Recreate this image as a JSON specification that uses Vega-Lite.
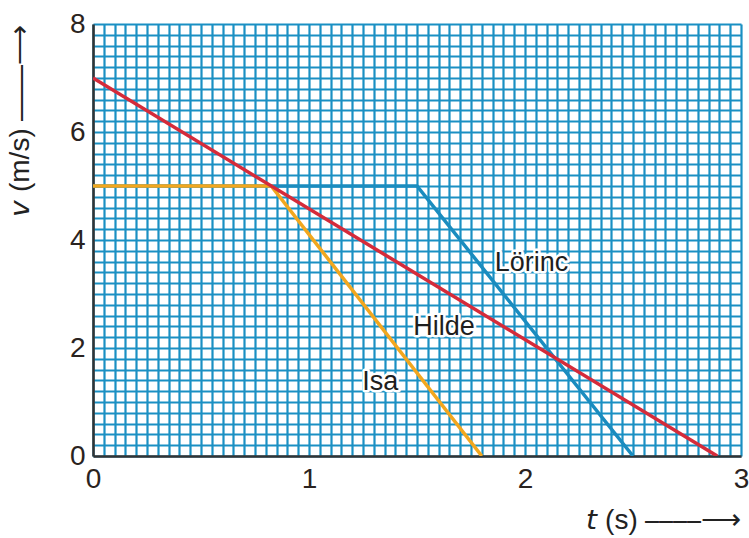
{
  "$schema": "https://vega.github.io/schema/vega-lite/v6.json",
  "width": 648,
  "height": 432,
  "autosize": {"type": "none"},
  "padding": {"left": 93, "top": 24, "right": 8, "bottom": 82},
  "background": "white",
  "config": {
    "view": {"stroke": null},
    "font": "Liberation Sans",
    "axis": {
      "gridColor": "#1a90c3",
      "gridWidth": 2.2,
      "gridOpacity": 1,
      "ticks": false,
      "tickCount": 200,
      "domainColor": "#333333",
      "domainWidth": 2.5,
      "labelFont": "Liberation Sans",
      "labelFontSize": 28,
      "labelColor": "#2a2320",
      "labelOverlap": false,
      "labelFlush": false,
      "titleFont": "Liberation Sans",
      "titleFontSize": 28,
      "titleFontWeight": "normal",
      "titleColor": "#222222"
    }
  },
  "datasets": {
    "lines": [
      {"name": "Lörinc", "t": 0, "v": 5},
      {"name": "Lörinc", "t": 1.5, "v": 5},
      {"name": "Lörinc", "t": 2.5, "v": 0},
      {"name": "Isa", "t": 0, "v": 5},
      {"name": "Isa", "t": 0.825, "v": 5},
      {"name": "Isa", "t": 1.8, "v": 0},
      {"name": "Hilde", "t": 0, "v": 7},
      {"name": "Hilde", "t": 2.89, "v": 0}
    ],
    "labels": [
      {"name": "Lörinc", "t": 2.03, "v": 3.57},
      {"name": "Hilde", "t": 1.625, "v": 2.39},
      {"name": "Isa", "t": 1.33, "v": 1.37}
    ]
  },
  "layer": [
    {
      "data": {"name": "lines"},
      "mark": {"type": "line", "strokeWidth": 3.5, "clip": true},
      "encoding": {
        "x": {
          "field": "t", "type": "quantitative",
          "scale": {"domain": [0, 3], "nice": false, "zero": false},
          "axis": {
            "values": [0,0.05,0.1,0.15,0.2,0.25,0.3,0.35,0.4,0.45,0.5,0.55,0.6,0.65,0.7,0.75,0.8,0.85,0.9,0.95,1,1.05,1.1,1.15,1.2,1.25,1.3,1.35,1.4,1.45,1.5,1.55,1.6,1.65,1.7,1.75,1.8,1.85,1.9,1.95,2,2.05,2.1,2.15,2.2,2.25,2.3,2.35,2.4,2.45,2.5,2.55,2.6,2.65,2.7,2.75,2.8,2.85,2.9,2.95,3],
            "labelExpr": "datum.value % 1 === 0 ? format(datum.value, 'd') : ''",
            "labelPadding": 9,
            "title": "𝘵 (s) ⎯⎯⎯⎯⟶",
            "titleAnchor": "end",
            "titlePadding": 13
          }
        },
        "y": {
          "field": "v", "type": "quantitative",
          "scale": {"domain": [0, 8], "nice": false},
          "axis": {
            "values": [0,0.2,0.4,0.6,0.8,1,1.2,1.4,1.6,1.8,2,2.2,2.4,2.6,2.8,3,3.2,3.4,3.6,3.8,4,4.2,4.4,4.6,4.8,5,5.2,5.4,5.6,5.8,6,6.2,6.4,6.6,6.8,7,7.2,7.4,7.6,7.8,8],
            "labelExpr": "datum.value % 2 === 0 ? format(datum.value, 'd') : ''",
            "labelPadding": 8,
            "title": "𝘷 (m/s) ⎯⎯⎯⎯⟶",
            "titleAnchor": "end",
            "titlePadding": 35
          }
        },
        "color": {
          "field": "name", "type": "nominal",
          "scale": {"domain": ["Lörinc", "Isa", "Hilde"], "range": ["#1a8cbf", "#f2a71e", "#d52b3a"]},
          "legend": null
        },
        "order": {"field": "t", "type": "quantitative"}
      }
    },
    {
      "data": {"name": "labels"},
      "mark": {"type": "text", "font": "Liberation Sans", "fontSize": 27, "fill": "white", "stroke": "white", "strokeWidth": 5, "strokeJoin": "round"},
      "encoding": {
        "x": {"field": "t", "type": "quantitative"},
        "y": {"field": "v", "type": "quantitative"},
        "text": {"field": "name"}
      }
    },
    {
      "data": {"name": "labels"},
      "mark": {"type": "text", "font": "Liberation Sans", "fontSize": 27, "fill": "#1e1e1e"},
      "encoding": {
        "x": {"field": "t", "type": "quantitative"},
        "y": {"field": "v", "type": "quantitative"},
        "text": {"field": "name"}
      }
    }
  ]
}
